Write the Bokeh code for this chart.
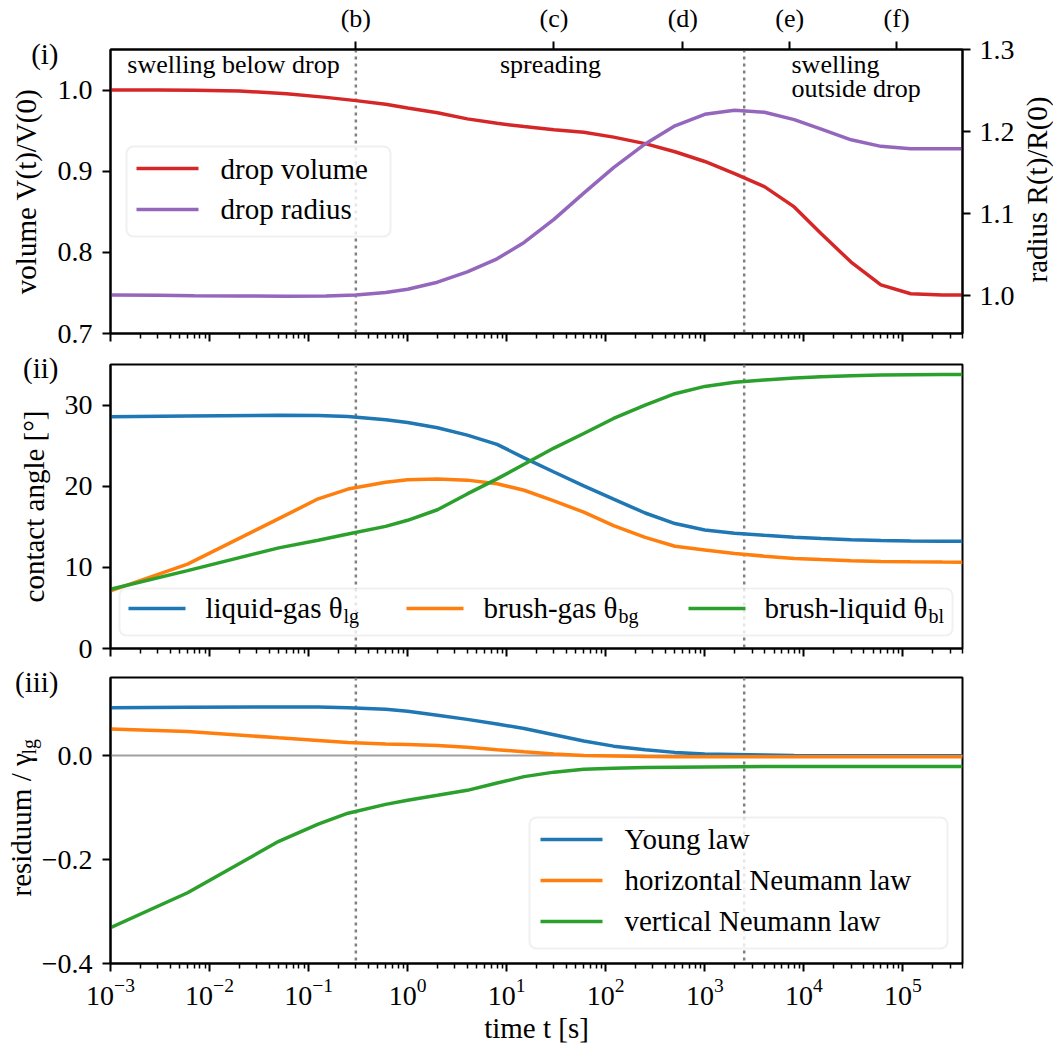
import math
from bokeh.plotting import figure
from bokeh.layouts import column
from bokeh.models import (Range1d, LinearAxis, LogAxis, FixedTicker, Span,
                          Label, BoxAnnotation, CustomJSTickFormatter, GridBox)
from bokeh.embed import file_html
from bokeh.resources import INLINE

# ---------------- data ----------------
t_top = [0.001, 0.003, 0.007, 0.02, 0.06, 0.15, 0.3, 0.6, 1, 2, 4, 8, 15, 30,
         60, 120, 250, 500, 1000, 2000, 4000, 8000, 15000, 30000, 60000,
         120000, 250000, 400000]
volume = [1.000, 1.000, 0.9998, 0.999, 0.9955, 0.991, 0.987, 0.9825, 0.978,
          0.972, 0.9645, 0.959, 0.955, 0.951, 0.948, 0.942, 0.934, 0.924,
          0.912, 0.897, 0.881, 0.856, 0.823, 0.788, 0.760, 0.749, 0.7475, 0.7475]
radius = [1.001, 1.0005, 1.0, 0.9997, 0.9995, 0.9998, 1.001, 1.004, 1.008,
          1.0165, 1.029, 1.045, 1.065, 1.093, 1.125, 1.156, 1.185, 1.207,
          1.221, 1.226, 1.2235, 1.2146, 1.203, 1.190, 1.182, 1.179, 1.179, 1.179]

t_bot = [0.001, 0.006, 0.05, 0.125, 0.25, 0.6, 1, 2, 4, 8, 15, 30, 60, 120,
         250, 500, 1000, 2000, 4000, 8000, 15000, 30000, 60000, 120000,
         250000, 400000]
theta_lg = [28.55, 28.65, 28.75, 28.7, 28.6, 28.2, 27.85, 27.2, 26.3, 25.15,
            23.5, 21.75, 20.05, 18.4, 16.7, 15.4, 14.6, 14.2, 13.95, 13.72,
            13.55, 13.4, 13.3, 13.25, 13.22, 13.21]
theta_bg = [7.1, 10.4, 16.0, 18.45, 19.65, 20.5, 20.8, 20.9, 20.75, 20.3,
            19.5, 18.2, 16.8, 15.15, 13.7, 12.6, 12.15, 11.7, 11.38, 11.1,
            10.96, 10.82, 10.73, 10.68, 10.65, 10.64]
theta_bl = [7.3, 9.6, 12.4, 13.35, 14.1, 15.05, 15.8, 17.1, 19.05, 20.9,
            22.7, 24.7, 26.5, 28.35, 30.0, 31.4, 32.3, 32.8, 33.1, 33.35,
            33.5, 33.6, 33.7, 33.75, 33.78, 33.78]
res_young = [0.092, 0.093, 0.0935, 0.0935, 0.092, 0.089, 0.085, 0.0775,
             0.0695, 0.0605, 0.052, 0.040, 0.028, 0.018, 0.011, 0.006, 0.003,
             0.002, 0.001, 0.0, -0.0005, -0.0006, -0.0006, -0.0006, -0.0006,
             -0.0006]
res_hneumann = [0.051, 0.046, 0.034, 0.029, 0.025, 0.022, 0.021, 0.019, 0.016,
                0.011, 0.007, 0.0028, 0.0, -0.001, -0.002, -0.0022, -0.0024,
                -0.0025, -0.0025, -0.0025, -0.0025, -0.0025, -0.0025, -0.0025,
                -0.0025, -0.0025]
res_vneumann = [-0.331, -0.264, -0.165, -0.132, -0.111, -0.094, -0.086,
                -0.0766, -0.067, -0.053, -0.0406, -0.032, -0.0266, -0.0244,
                -0.0232, -0.0226, -0.022, -0.0214, -0.0212, -0.0212, -0.0212,
                -0.0212, -0.0212, -0.0212, -0.0212, -0.0212]

event_times = [0.3, 30, 600, 7200, 86400]
event_labels = ["(b)", "(c)", "(d)", "(e)", "(f)"]
phase_bounds = [0.3, 2500]
x_major = [1e-3, 1e-2, 1e-1, 1e0, 1e1, 1e2, 1e3, 1e4, 1e5]
vol_ticks = [0.7, 0.8, 0.9, 1.0]
rad_ticks = [1.0, 1.1, 1.2, 1.3]
angle_ticks = [0, 10, 20, 30]
res_ticks = [-0.4, -0.2, 0.0]
X_MIN, X_MAX = 1e-3, 4e5

# ---------------- style ----------------
FONT = "Liberation Serif"
BLUE, ORANGE, GREEN, RED, PURPLE = "#1f77b4", "#ff7f0e", "#2ca02c", "#d62728", "#9467bd"
LW = 3.5
FW = 852
LEFT, RIGHT = 110, 91
TXT = 29
TICK = "28px"
MID = 0.3375  # distance from baseline to middle of the text box, in em
H1, H2, H3 = 284, 284, 286
B1 = (46, 15)
B2 = (16, 14)
B3 = (15, 88)
TOTAL_W = LEFT + FW + RIGHT
TOTAL_H = sum(B1) + H1 + sum(B2) + H2 + sum(B3) + H3
OFF = 1  # page offset of the layout origin


def style_axis(ax, standoff=10):
    ax.axis_line_width = 2
    ax.axis_line_color = "black"
    ax.major_tick_line_width = 2
    ax.major_tick_out = 8
    ax.major_tick_in = 0
    ax.minor_tick_line_width = 1.5
    ax.minor_tick_out = 5
    ax.minor_tick_in = 0
    ax.major_label_text_font = FONT
    ax.major_label_text_font_size = TICK
    ax.major_label_text_color = "black"
    ax.major_label_standoff = standoff
    ax.axis_label_text_font = FONT
    ax.axis_label_text_font_size = f"{TXT}px"
    ax.axis_label_text_font_style = "normal"
    ax.axis_label_text_color = "black"


def hide_labels(ax):
    ax.formatter = CustomJSTickFormatter(code="return ''")
    ax.major_label_text_font_size = "1px"
    ax.major_label_standoff = 0


def make_fig(y0, y1, fh, top, bottom):
    p = figure(x_axis_type="log", x_range=Range1d(X_MIN, X_MAX),
               y_range=Range1d(y0, y1), frame_width=FW, frame_height=fh,
               min_border_left=LEFT, min_border_right=RIGHT,
               min_border_top=top, min_border_bottom=bottom,
               output_backend="svg", toolbar_location=None, title=None)
    p.xgrid.visible = False
    p.ygrid.visible = False
    p.outline_line_color = "black"
    p.outline_line_width = 2
    p.outline_line_alpha = 1
    p.background_fill_color = "white"
    p.border_fill_color = "white"
    minor = [m * 10.0 ** k for k in range(-3, 6) for m in range(2, 10)]
    p.xaxis.ticker = FixedTicker(ticks=x_major, minor_ticks=minor)
    style_axis(p.xaxis[0], 7)
    style_axis(p.yaxis[0], 10)
    for loc in phase_bounds:
        p.add_layout(Span(location=loc, dimension="height", line_color="#808080",
                          line_width=2.5, line_dash="3 4", level="underlay"))
    return p


def slabel(p, x, y, text, size=TXT, align="left", angle=0.0):
    """(x, y): start (or centre) of the text baseline, frame-relative screen px."""
    d = MID * size
    if angle:
        x, y = x - d, y
    else:
        y = y + d
    p.add_layout(Label(x=x, y=y, x_units="screen", y_units="screen", text=text,
                       text_font=FONT, text_font_size=f"{size}px", text_color="black",
                       text_align=align, text_baseline="middle", angle=angle))


def legend_box(p, l, r, b, t):
    p.add_layout(BoxAnnotation(left=l, right=r, bottom=b, top=t,
                               left_units="screen", right_units="screen",
                               bottom_units="screen", top_units="screen",
                               fill_color="white", fill_alpha=0.8,
                               line_color="#cccccc", line_width=2,
                               border_radius=7))


def legend_line(p, l, r, y, color):
    p.add_layout(BoxAnnotation(left=l, right=r, bottom=y - LW / 2, top=y + LW / 2,
                               left_units="screen", right_units="screen",
                               bottom_units="screen", top_units="screen",
                               fill_color=color, fill_alpha=1, line_color=None))


# ---------------- panel (i) ----------------
p1 = make_fig(0.7, 1.05, H1, *B1)
p1.extra_y_ranges = {"radius": Range1d(0.954, 1.3)}
p1.yaxis[0].ticker = FixedTicker(ticks=vol_ticks, minor_ticks=[])
p1.yaxis[0].major_label_overrides = {v: f"{v:.1f}" for v in vol_ticks}
p1.yaxis[0].axis_label = "volume V(t)/V(0)"
p1.yaxis[0].axis_label_standoff = 13
hide_labels(p1.xaxis[0])

rax = LinearAxis(y_range_name="radius",
                 ticker=FixedTicker(ticks=rad_ticks, minor_ticks=[]))
style_axis(rax, 9)
rax.major_label_overrides = {v: f"{v:.1f}" for v in rad_ticks}
p1.add_layout(rax, "right")

tax = LogAxis(ticker=FixedTicker(ticks=event_times, minor_ticks=[]))
style_axis(tax, 9)
tax.major_label_text_font_size = "26px"
tax.major_label_overrides = dict(zip(event_times, event_labels))
p1.add_layout(tax, "above")

p1.line(t_top, volume, line_color=RED, line_width=LW)
p1.line(t_top, radius, line_color=PURPLE, line_width=LW, y_range_name="radius")

slabel(p1, 123, 260, "swelling below drop", size=26, align="center")
slabel(p1, 440, 260, "spreading", size=26, align="center")
slabel(p1, 681, 260, "swelling", size=26)
slabel(p1, 681, 236, "outside drop", size=26)

legend_box(p1, 16, 280, 97, 187)
legend_line(p1, 26, 88, 165, RED)
legend_line(p1, 26, 88, 124, PURPLE)
slabel(p1, 110, 155, "drop volume")
slabel(p1, 110, 115, "drop radius")

# ---------------- panel (ii) ----------------
p2 = make_fig(0, 35, H2, *B2)
p2.yaxis[0].ticker = FixedTicker(ticks=angle_ticks, minor_ticks=[])
p2.yaxis[0].axis_label = "contact angle [°]"
p2.yaxis[0].axis_label_standoff = 12
hide_labels(p2.xaxis[0])

p2.line(t_bot, theta_lg, line_color=BLUE, line_width=LW)
p2.line(t_bot, theta_bg, line_color=ORANGE, line_width=LW)
p2.line(t_bot, theta_bl, line_color=GREEN, line_width=LW)

legend_box(p2, 9, 842, 13, 60)
for (l0, tx, sx, main, sub, col) in [
        (18, 95, 233, "liquid-gas θ", "lg", BLUE),
        (296, 373, 508, "brush-gas θ", "bg", ORANGE),
        (578, 654, 818, "brush-liquid θ", "bl", GREEN)]:
    legend_line(p2, l0, l0 + 57, 40, col)
    slabel(p2, tx, 31, main)
    slabel(p2, sx, 26, sub, size=20)

# ---------------- panel (iii) ----------------
p3 = make_fig(-0.4, 0.15, H3, *B3)
p3.yaxis[0].ticker = FixedTicker(ticks=res_ticks, minor_ticks=[])
p3.yaxis[0].major_label_overrides = {v: f"{v:.1f}".replace("-", "\u2212") for v in res_ticks}
p3.xaxis[0].major_label_standoff = 7
p3.xaxis[0].axis_label = "time t [s]"
p3.xaxis[0].axis_label_standoff = 4
p3.add_layout(Span(location=0, dimension="width", line_color="#a0a0a0",
                   line_width=2, level="underlay"))

p3.line(t_bot, res_young, line_color=BLUE, line_width=LW)
p3.line(t_bot, res_hneumann, line_color=ORANGE, line_width=LW)
p3.line(t_bot, res_vneumann, line_color=GREEN, line_width=LW)

legend_box(p3, 419, 837, 15, 146)
for (y_line, y_txt, txt, col) in [(124, 115, "Young law", BLUE),
                                  (83, 74, "horizontal Neumann law", ORANGE),
                                  (42, 33, "vertical Neumann law", GREEN)]:
    legend_line(p3, 430, 492, y_line, col)
    slabel(p3, 514, y_txt, txt)

# ---------------- transparent overlay for texts outside the frames ----------------
ov = figure(frame_width=TOTAL_W, frame_height=TOTAL_H, min_border=0,
            x_range=Range1d(0, 1), y_range=Range1d(0, 1),
            x_axis_location=None, y_axis_location=None,
            toolbar_location=None, output_backend="svg", title=None)
ov.grid.visible = False
ov.outline_line_color = None
ov.background_fill_alpha = 0
ov.border_fill_alpha = 0


def olabel(px, py, text, **kw):
    # px, py: baseline position in page pixels
    slabel(ov, px - OFF, TOTAL_H - (py - OFF), text, **kw)


def otag(px, py, text):
    # right-aligned tag, vertically centred on py (page pixels)
    ov.add_layout(Label(x=px - OFF, y=TOTAL_H - (py - OFF), x_units="screen",
                        y_units="screen", text=text, text_font=FONT,
                        text_font_size=f"{TXT}px", text_color="black",
                        text_align="right", text_baseline="middle"))


otag(59, 54, "(i)")
otag(59, 368, "(ii)")
otag(59, 682, "(iii)")
olabel(1047, 190, "radius R(t)/R(0)", align="center", angle=math.pi / 2)
olabel(31, 897, "residuum / γ", angle=math.pi / 2)
olabel(36, 755, "lg", size=20, angle=math.pi / 2)

panels = column(p1, p2, p3, spacing=0)
overlay = column(ov, spacing=0)
layout = GridBox(children=[(panels, 0, 0), (overlay, 0, 0)], spacing=0)
open("out.html", "w").write(file_html(layout, INLINE, title="drop dynamics"))
